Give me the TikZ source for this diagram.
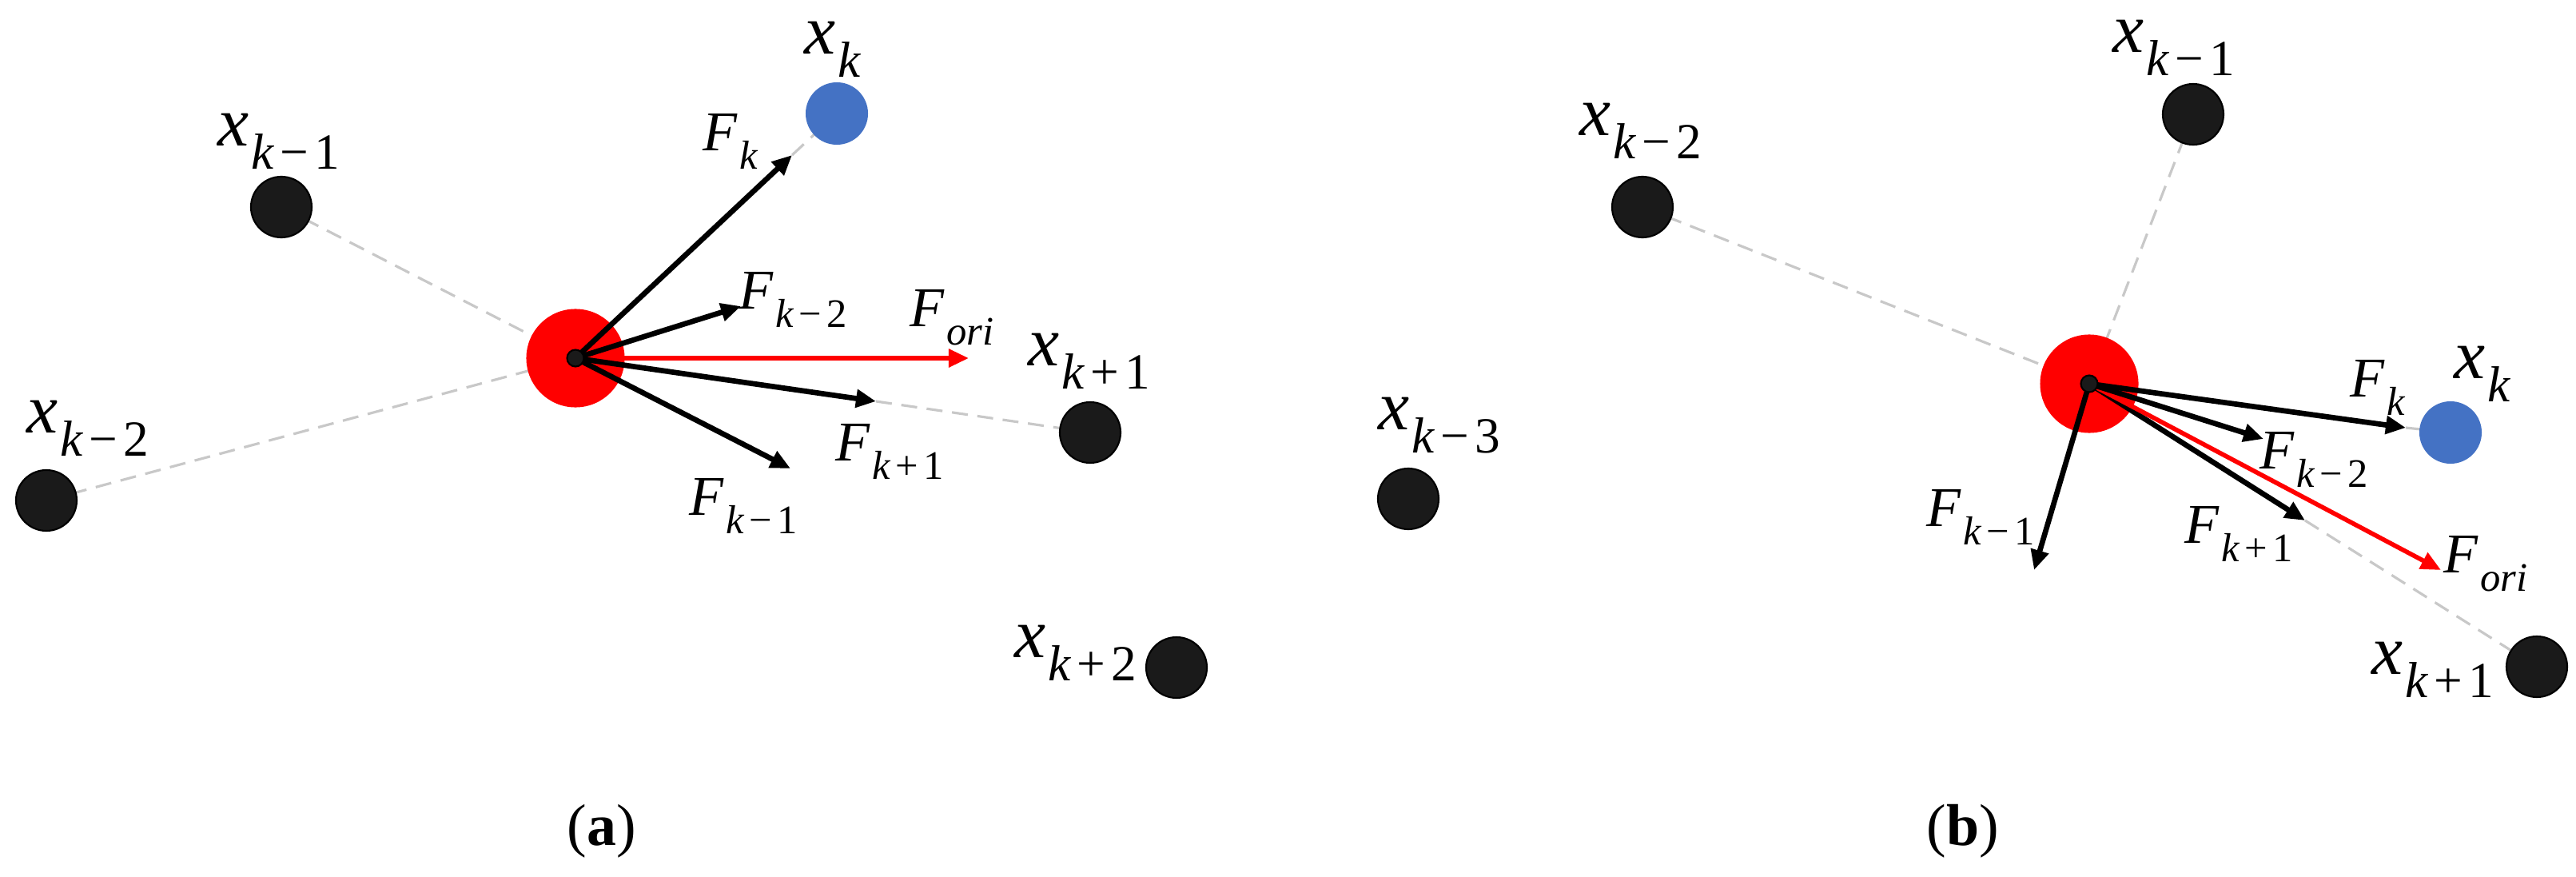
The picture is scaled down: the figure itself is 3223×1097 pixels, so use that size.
\documentclass[tikz,border=0pt]{standalone}
\usepackage{graphicx}
\usepackage{fontspec}
\setmainfont{Liberation Serif}[ItalicFont={Liberation Serif Italic},BoldFont={Liberation Serif Bold}]
\usetikzlibrary{arrows.meta,backgrounds}
\definecolor{dashgray}{RGB}{200,200,200}
\definecolor{nodeblack}{RGB}{26,26,26}
\definecolor{nodeblue}{RGB}{68,114,196}
\definecolor{centred}{RGB}{255,0,0}
% symbol with subscript, Times-like
\newcommand{\symsub}[2]{\textit{#1}\kern0.03em\raisebox{-0.33em}{\scalebox{0.72}{#2}}}
\newcommand{\km}[1]{\textit{k}\kern0.12em−\kern0.12em#1}
\newcommand{\kp}[1]{\textit{k}\kern0.12em+\kern0.12em#1}
\tikzset{
  blk/.style={circle,minimum size=0.76cm,inner sep=0pt,fill=nodeblack,draw=black,line width=0.6pt},
  blu/.style={circle,minimum size=0.78cm,inner sep=0pt,fill=nodeblue},
  redc/.style={circle,minimum size=1.23cm,inner sep=0pt,fill=centred},
  cdot/.style={circle,minimum size=0.21cm,inner sep=0pt,fill=nodeblack,draw=black,line width=0.6pt},
  xlab/.style={inner sep=0pt,font=\fontsize{25}{29}\selectfont},
  flab/.style={inner sep=0pt,font=\fontsize{20}{24}\selectfont},
  caplab/.style={inner sep=0pt,font=\fontsize{21}{25}\selectfont},
  force/.style={-{Triangle[length=0.25cm,width=0.22cm]},line width=1.9pt,black},
  forig/.style={force,draw=centred,fill=centred,line width=1.6pt},
  link/.style={dashgray,line width=0.9pt,dash pattern=on 0.2cm off 0.12cm}
}
\begin{document}
\begin{tikzpicture}[x=0.01cm,y=-0.01cm]
\path[use as bounding box] (0,0) rectangle (3223,1097);

% ---------- panel (a) ----------
\node[blu] (a-xk) at (1047,142) {};
\node[blk] (a-xkm1) at (352,259) {};
\node[blk] (a-xkm2) at (58,626) {};
\node[blk] (a-xkp1) at (1364,541) {};
\node[blk] (a-xkp2) at (1472,835) {};
\node[redc] (a-r) at (720,448) {};
\coordinate (a-tk) at (991,194);
\coordinate (a-tkm2) at (927,383);
\coordinate (a-tori) at (1212,448);
\coordinate (a-tkp1) at (1096,502);
\coordinate (a-tkm1) at (989,586);
\begin{scope}[on background layer]
  \draw[link] (a-xkm1.center) -- (a-r.center);
  \draw[link] (a-xkm2.center) -- (a-r.center);
  \draw[link] (a-tkp1) -- (a-xkp1.center);
  \draw[link] (a-tk) -- (a-xk.center);
\end{scope}
\draw[forig] (a-r.center) -- (a-tori);
\draw[force] (a-r.center) -- (a-tk);
\draw[force] (a-r.center) -- (a-tkm2);
\draw[force] (a-r.center) -- (a-tkp1);
\draw[force] (a-r.center) -- (a-tkm1);
\node[cdot] (a-c) at (720,448) {};

\node[xlab] (a-lxk) at (1042,62) {\symsub{x}{\textit{k}}};
\node[xlab] (a-lxkm1) at (349,177) {\symsub{x}{\km{1}}};
\node[xlab] (a-lxkm2) at (110,536) {\symsub{x}{\km{2}}};
\node[xlab] (a-lxkp1) at (1363,452) {\symsub{x}{\kp{1}}};
\node[xlab] (a-lxkp2) at (1346,817) {\symsub{x}{\kp{2}}};
\node[flab] (a-lfk) at (914,177) {\symsub{F}{\textit{k}}};
\node[flab] (a-lfkm2) at (992,375) {\symsub{F}{\km{2}}};
\node[flab] (a-lfori) at (1191,397) {\symsub{F}{\textit{ori}}};
\node[flab] (a-lfkp1) at (1113,565) {\symsub{F}{\kp{1}}};
\node[flab] (a-lfkm1) at (930,633) {\symsub{F}{\km{1}}};
\node[caplab] (a-cap) at (753,1040) {(\textbf{a})};

% ---------- panel (b) ----------
\node[blk] (b-xkm3) at (1762,624) {};
\node[blk] (b-xkm2) at (2055,259) {};
\node[blk] (b-xkm1) at (2744,143) {};
\node[blu] (b-xk) at (3066,541) {};
\node[blk] (b-xkp1) at (3174,834) {};
\node[redc] (b-r) at (2614,480) {};
\coordinate (b-tk) at (3010,535);
\coordinate (b-tkm2) at (2832,549);
\coordinate (b-tkp1) at (2884,651);
\coordinate (b-tori) at (3054,713);
\coordinate (b-tkm1) at (2545,713);
\begin{scope}[on background layer]
  \draw[link] (b-xkm2.center) -- (b-r.center);
  \draw[link] (b-xkm1.center) -- (b-r.center);
  \draw[link] (b-tkp1) -- (b-xkp1.center);
  \draw[link] (b-tk) -- (b-xk.center);
\end{scope}
\draw[force] (b-r.center) -- (b-tkp1);
\draw[forig] (b-r.center) -- (b-tori);
\draw[force] (b-r.center) -- (b-tk);
\draw[force] (b-r.center) -- (b-tkm2);
\draw[force] (b-r.center) -- (b-tkm1);
\node[cdot] (b-c) at (2614,480) {};

\node[xlab] (b-lxkm3) at (1801,532) {\symsub{x}{\km{3}}};
\node[xlab] (b-lxkm2) at (2053,164) {\symsub{x}{\km{2}}};
\node[xlab] (b-lxkm1) at (2720,60) {\symsub{x}{\km{1}}};
\node[xlab] (b-lxk) at (3106,468) {\symsub{x}{\textit{k}}};
\node[xlab] (b-lxkp1) at (3044,838) {\symsub{x}{\kp{1}}};
\node[flab] (b-lfk) at (2975,485) {\symsub{F}{\textit{k}}};
\node[flab] (b-lfkm2) at (2895,575) {\symsub{F}{\km{2}}};
\node[flab] (b-lfkp1) at (2801,668) {\symsub{F}{\kp{1}}};
\node[flab] (b-lfori) at (3110,705) {\symsub{F}{\textit{ori}}};
\node[flab] (b-lfkm1) at (2478,647) {\symsub{F}{\km{1}}};
\node[caplab] (b-cap) at (2456,1040) {(\textbf{b})};
\end{tikzpicture}
\end{document}
